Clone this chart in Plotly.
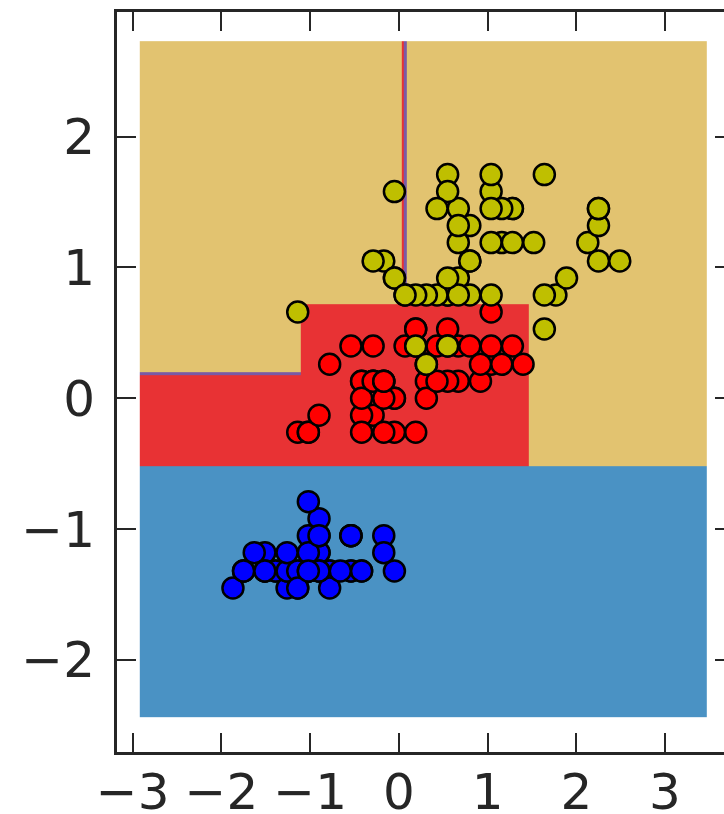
import plotly.graph_objects as go

# ---- data (standardized sepal length vs petal width, iris) ----
setosa_x = [-0.90, -1.14, -1.39, -1.51, -1.02, -0.54, -1.51, -1.02, -1.75, -1.14,
            -0.54, -1.26, -1.26, -1.87, -0.05, -0.17, -0.54, -0.90, -0.17, -0.90,
            -0.54, -0.90, -1.51, -0.90, -1.26, -1.02, -1.02, -0.78, -0.78, -1.39,
            -1.26, -0.54, -0.78, -0.42, -1.14, -1.02, -0.42, -1.14, -1.75, -0.90,
            -1.02, -1.63, -1.75, -1.02, -0.90, -1.26, -0.90, -1.51, -0.66, -1.02]
setosa_y = [-1.32, -1.32, -1.32, -1.32, -1.32, -1.05, -1.18, -1.32, -1.32, -1.45,
            -1.32, -1.32, -1.45, -1.45, -1.32, -1.05, -1.05, -1.18, -1.18, -1.18,
            -1.32, -1.05, -1.32, -0.92, -1.32, -1.32, -1.05, -1.32, -1.32, -1.32,
            -1.32, -1.05, -1.45, -1.32, -1.32, -1.32, -1.32, -1.45, -1.32, -1.32,
            -1.18, -1.18, -1.32, -0.79, -1.05, -1.18, -1.32, -1.32, -1.32, -1.32]

versicolor_x = [1.40, 0.67, 1.28, -0.42, 0.80, -0.17, 0.55, -1.14, 0.92, -0.78,
                -1.02, 0.07, 0.19, 0.31, -0.29, 1.04, -0.29, -0.05, 0.43, -0.29,
                0.07, 0.31, 0.55, 0.31, 0.67, 0.92, 1.16, 1.04, 0.19, -0.17,
                -0.42, -0.42, -0.05, 0.19, -0.54, 0.19, 1.04, 0.55, -0.29, -0.42,
                -0.42, 0.31, -0.05, -1.02, -0.29, -0.17, -0.17, 0.43, -0.90, -0.17]
versicolor_y = [0.26, 0.40, 0.40, 0.13, 0.40, 0.13, 0.53, -0.26, 0.13, 0.26,
                -0.26, 0.40, -0.26, 0.26, 0.13, 0.26, 0.40, -0.26, 0.40, -0.13,
                0.79, 0.13, 0.40, 0.00, 0.13, 0.26, 0.26, 0.66, 0.40, -0.26,
                -0.13, -0.26, 0.00, 0.53, 0.40, 0.53, 0.40, 0.13, 0.13, 0.13,
                0.00, 0.26, 0.00, -0.26, 0.13, 0.00, 0.13, 0.13, -0.13, 0.13]

virginica_x = [0.55, -0.05, 1.52, 0.55, 0.80, 2.13, -1.14, 1.77, 1.04, 1.64,
               0.80, 0.67, 1.16, -0.17, -0.05, 0.67, 0.80, 2.25, 2.25, 0.19,
               1.28, -0.29, 2.25, 0.55, 1.04, 1.64, 0.43, 0.31, 0.67, 1.64,
               1.89, 2.49, 0.67, 0.55, 0.31, 2.25, 0.55, 0.67, 0.19, 1.28,
               1.04, 1.28, -0.05, 1.16, 1.04, 1.04, 0.55, 0.80, 0.43, 0.07]
virginica_y = [1.71, 0.92, 1.19, 0.79, 1.32, 1.19, 0.66, 0.79, 0.79, 1.71,
               1.05, 0.92, 1.19, 1.05, 1.58, 1.45, 0.79, 1.32, 1.45, 0.40,
               1.45, 1.05, 1.05, 0.79, 1.19, 0.79, 0.79, 0.79, 1.19, 0.53,
               0.92, 1.05, 1.32, 0.40, 0.26, 1.45, 1.58, 0.79, 0.79, 1.19,
               1.58, 1.45, 0.92, 1.45, 1.71, 1.45, 0.92, 1.05, 1.45, 0.79]

# decision regions (tree thresholds as cell edges) and predicted class per cell
region_x_edges = [-2.92, -1.10, 0.03, 0.06, 0.09, 1.46, 3.47]
region_y_edges = [-2.44, -0.52, 0.18, 0.20, 0.72, 0.86, 2.73]
# 0 = setosa, 1 = versicolor, 2 = virginica, 3 = boundary artefact
region_class = [
    [0, 0, 0, 0, 0, 0],
    [1, 1, 1, 1, 1, 2],
    [3, 1, 1, 1, 1, 2],
    [2, 1, 1, 1, 1, 2],
    [2, 2, 2, 2, 2, 2],
    [2, 2, 1, 3, 2, 2],
]

x_ticks = [-3, -2, -1, 0, 1, 2, 3]
y_ticks = [-2, -1, 0, 1, 2]

BLUE_BG = "#4a92c4"
RED_BG = "#e83234"
TAN_BG = "#e2c370"
PURPLE = "#7a5aa6"

fig = go.Figure()
fig.add_trace(go.Heatmap(
    x=region_x_edges, y=region_y_edges, z=region_class,
    zmin=0, zmax=3, showscale=False, hoverinfo="skip",
    colorscale=[[0, BLUE_BG], [0.1667, BLUE_BG], [0.1667, RED_BG], [0.5, RED_BG],
                [0.5, TAN_BG], [0.8333, TAN_BG], [0.8333, PURPLE], [1, PURPLE]],
))

for xs, ys, col in [(setosa_x, setosa_y, "#0000ff"),
                    (versicolor_x, versicolor_y, "#ff0000"),
                    (virginica_x, virginica_y, "#bfbf00")]:
    fig.add_trace(go.Scatter(
        x=xs, y=ys, mode="markers",
        marker=dict(size=21, color=col, line=dict(color="black", width=2.5)),
        showlegend=False, hoverinfo="skip",
    ))

# empty trace to carry the right-hand tick axis
fig.add_trace(go.Scatter(x=[], y=[], yaxis="y2", showlegend=False))

font = dict(family="DejaVu Sans", size=50, color="#262626")
fig.update_layout(
    width=724, height=814,
    margin=dict(l=117, r=0, t=12, b=62, autoexpand=False),
    plot_bgcolor="white", paper_bgcolor="white",
    showlegend=False,
    xaxis=dict(range=[-3.177, 3.665], tickmode="array", tickvals=x_ticks,
               automargin=False,
               showgrid=False, zeroline=False, showline=True, linewidth=3,
               linecolor="#262626", mirror="ticks", ticks="inside", ticklen=19,
               tickwidth=2, tickcolor="#262626", tickfont=font,
               ticklabelstandoff=-6),
    yaxis=dict(range=[-2.704, 2.953], tickmode="array", tickvals=y_ticks,
               automargin=False,
               showgrid=False, zeroline=False, showline=True, linewidth=3,
               linecolor="#262626", ticks="inside", ticklen=19,
               tickwidth=2, tickcolor="#262626", tickfont=font,
               ticklabelstandoff=9),
    yaxis2=dict(overlaying="y", side="right", matches="y", tickmode="array",
                automargin=False,
                tickvals=y_ticks, showgrid=False, zeroline=False, showline=False,
                ticks="inside", ticklen=9, tickwidth=2, tickcolor="#262626",
                showticklabels=False),
)

fig.write_html(
    "out.html",
    config={"displayModeBar": False},
    post_script="document.body.style.margin='0';document.body.style.overflow='hidden';",
)
